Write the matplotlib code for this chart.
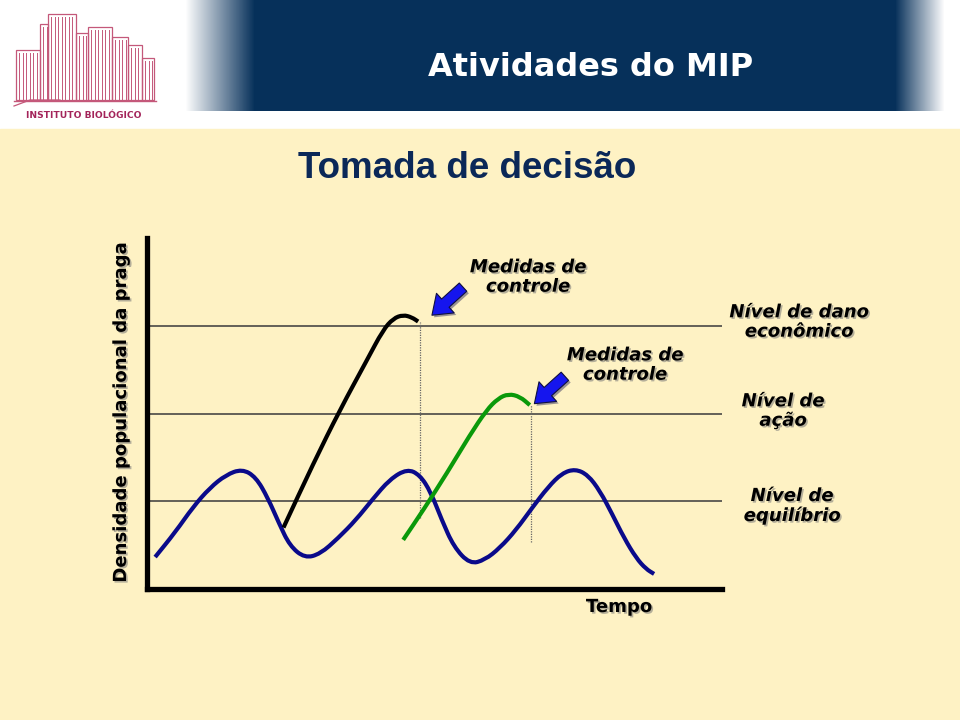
import numpy as np
import matplotlib
matplotlib.use("Agg")
import matplotlib.pyplot as plt
import matplotlib.patches as mpatches
import matplotlib.patheffects as pe
from matplotlib.path import Path

# Dados (tempo 0-100, densidade 0-100)
tempo_pop = [1.5, 5.0, 8.1, 11.0, 13.8, 16.6, 19.0, 21.1, 23.0, 24.9, 27.5, 30.2, 33.3,
             36.4, 39.2, 42.3, 45.3, 47.5, 49.4, 51.3, 53.4, 56.2, 58.8, 61.4, 64.2,
             67.0, 69.8, 72.2, 74.5, 76.7, 78.8, 80.9, 83.0, 85.1, 86.8, 88.2]
dens_pop = [9.1, 16.2, 23.4, 28.8, 32.5, 34.2, 31.9, 25.9, 18.8, 12.3, 8.8, 10.0, 14.5,
            19.7, 25.4, 31.3, 34.2, 32.5, 27.6, 19.7, 12.0, 7.1, 8.3, 11.7, 16.8,
            23.1, 29.1, 33.0, 34.2, 32.5, 27.9, 21.4, 14.5, 8.8, 5.7, 4.3]

tempo_surto = [23.8, 29.0, 33.6, 38.3, 41.1, 42.9, 44.6, 46.1, 47.2]
dens_surto = [17.5, 35.8, 51.0, 65.2, 73.8, 77.1, 78.1, 77.4, 76.2]

tempo_surto2 = [44.6, 48.1, 52.2, 56.2, 59.1, 61.1, 62.9, 64.9, 66.6]
dens_surto2 = [14.0, 22.5, 33.0, 43.9, 51.0, 54.3, 55.6, 54.8, 52.4]

niveis = [75, 50, 25]
rotulos_niveis = ["Nível de dano\neconômico", "Nível de\nação", "Nível de\nequilíbrio"]

tempo_medidas = [47.5, 66.8]
medidas_base = [20.2, 13.4]
medidas_topo = [76.1, 52.4]
setas_ini = [(55.0, 86.0), (72.7, 60.6)]
setas_fim = [(49.6, 78.0), (67.4, 52.8)]

CREME = "#FEF2C4"
MARINHO = "#06305A"
ROSA = "#C4587A"

sombra = [pe.withSimplePatchShadow(offset=(1.2, -1.2), shadow_rgbFace="#777777", alpha=0.55)]


def caminho_suave(xs, ys):
    pts = list(zip(xs, ys))
    verts = [pts[0], ((pts[0][0] + pts[1][0]) / 2, (pts[0][1] + pts[1][1]) / 2)]
    codes = [Path.MOVETO, Path.LINETO]
    for i in range(1, len(pts) - 1):
        meio = ((pts[i][0] + pts[i + 1][0]) / 2, (pts[i][1] + pts[i + 1][1]) / 2)
        verts += [pts[i], meio]
        codes += [Path.CURVE3, Path.CURVE3]
    verts.append(pts[-1])
    codes.append(Path.LINETO)
    return Path(verts, codes)


fig = plt.figure(figsize=(9.6, 7.2), dpi=100)
fig.patch.set_facecolor("white")

# fundo do slide em coordenadas de pixel
bg = fig.add_axes([0, 0, 1, 1])
bg.set_xlim(0, 960)
bg.set_ylim(720, 0)
bg.axis("off")
bg.add_patch(mpatches.Rectangle((0, 129), 960, 600, color=CREME, zorder=0))

# faixa azul do cabeçalho com degradê nas pontas
larg = 760
alfa = np.ones(larg)
alfa[:70] = np.linspace(0, 1, 70)
alfa[-50:] = np.linspace(1, 0, 50)
rgba = np.zeros((1, larg, 4))
rgba[..., :3] = matplotlib.colors.to_rgb(MARINHO)
rgba[0, :, 3] = alfa
bg.imshow(rgba, extent=[185, 945, 111, 0], aspect="auto", zorder=1)
bg.set_xlim(0, 960)
bg.set_ylim(720, 0)
bg.text(591, 67, "Atividades do MIP", color="white", fontsize=23, fontweight="bold",
        ha="center", va="center", family="DejaVu Sans")

# logotipo simplificado
blocos = [(16, 40, 50), (40, 48, 24), (48, 76, 14), (76, 88, 33), (88, 112, 27),
          (112, 128, 37), (128, 142, 45), (142, 154, 58)]
for x0, x1, topo in blocos:
    bg.add_patch(mpatches.Rectangle((x0, topo), x1 - x0, 100 - topo, fill=False,
                                    edgecolor=ROSA, lw=0.9, zorder=2))
    for xv in np.arange(x0 + 3, x1, 3.5):
        bg.plot([xv, xv], [topo + 3, 100], color=ROSA, lw=0.7, zorder=2)
bg.plot([14, 156], [101, 101], color=ROSA, lw=1.0)
bg.plot([14, 30, 60], [106, 100, 100], color=ROSA, lw=0.9)
bg.text(84, 115, "INSTITUTO BIOLÓGICO", color="#A3245A", fontsize=6.6, fontweight="bold",
        ha="center", va="center", family="DejaVu Sans")

bg.text(467, 168, "Tomada de decisão", color="#0B2858", fontsize=26.5, fontweight="bold",
        ha="center", va="center", family="Liberation Sans")

# gráfico
ax = fig.add_axes([146.5 / 960, (720 - 589) / 720, 575.5 / 960, 351 / 720])
ax.set_facecolor("none")
ax.set_xlim(0, 100)
ax.set_ylim(0, 100)
for lado in ["top", "right"]:
    ax.spines[lado].set_visible(False)
for lado in ["left", "bottom"]:
    ax.spines[lado].set_linewidth(3.8)
    ax.spines[lado].set_color("black")
ax.set_xticks([])
ax.set_yticks([])

for nv in niveis:
    ax.axhline(nv, color="#3a3a3a", lw=1.1, zorder=1)

ax.vlines(tempo_medidas, medidas_base, medidas_topo, colors="#666666",
          linestyles=(0, (1, 1)), lw=0.9, zorder=2)

for xs, ys, cor in [(tempo_pop, dens_pop, "#0A0A8A"),
                    (tempo_surto, dens_surto, "black"),
                    (tempo_surto2, dens_surto2, "#0A990A")]:
    ax.add_patch(mpatches.PathPatch(caminho_suave(xs, ys), fill=False, edgecolor=cor,
                                    lw=3.0, capstyle="butt", joinstyle="round", zorder=3))

for ini, fim in zip(setas_ini, setas_fim):
    seta = mpatches.FancyArrowPatch(ini, fim,
                                    arrowstyle="simple,head_length=1.3,head_width=1.9,tail_width=0.8",
                                    mutation_scale=10, facecolor="#1515EE", edgecolor="#101040",
                                    lw=0.8, shrinkA=0, shrinkB=0, zorder=4)
    seta.set_path_effects([pe.SimplePatchShadow(offset=(1.5, -1.5), alpha=0.4), pe.Normal()])
    ax.add_patch(seta)

# textos
estilo = dict(fontsize=13, fontweight="bold", fontstyle="italic", ha="center",
              va="center", linespacing=1.1, family="DejaVu Sans", path_effects=sombra)
bg.text(528, 277, "Medidas de\ncontrole", **estilo)
bg.text(625, 365, "Medidas de\ncontrole", **estilo)
for (px, py), rot in zip([(799, 322), (783, 411), (792, 506)], rotulos_niveis):
    bg.text(px, py, rot, **estilo)

bg.text(619, 607, "Tempo", fontsize=13, fontweight="bold", ha="center", va="center",
        family="DejaVu Sans", path_effects=sombra)
bg.text(121, 414, "Densidade populacional da praga", fontsize=13, fontweight="bold",
        rotation=90, ha="center", va="center", family="DejaVu Sans", path_effects=sombra)

fig.savefig("out.png", dpi=100)
